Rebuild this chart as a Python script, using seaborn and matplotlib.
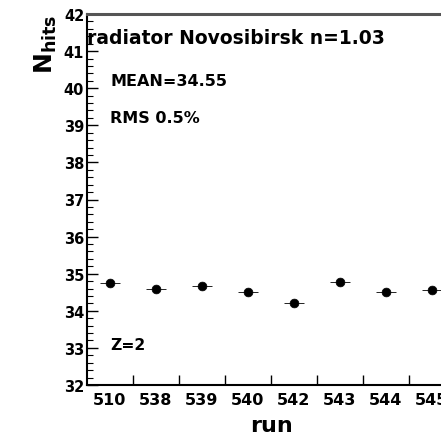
import matplotlib
matplotlib.use("Agg")
import matplotlib.pyplot as plt
import seaborn as sns
import numpy as np
from matplotlib.ticker import MultipleLocator, FixedLocator

runs = ["510", "538", "539", "540", "542", "543", "544", "545"]
nhits = [34.76, 34.60, 34.67, 34.52, 34.21, 34.77, 34.50, 34.55]
yerr = [0.03, 0.03, 0.03, 0.03, 0.03, 0.03, 0.03, 0.03]
xerr = [0.22, 0.22, 0.22, 0.22, 0.22, 0.22, 0.22, 0.22]

sns.set_style("ticks")
plt.rcParams['font.family'] = ['DejaVu Sans']
plt.rcParams['font.weight'] = 'bold'
plt.rcParams['mathtext.fontset'] = 'dejavusans'
plt.rcParams['text.color'] = 'black'
plt.rcParams['axes.labelcolor'] = 'black'
plt.rcParams['xtick.color'] = 'black'
plt.rcParams['ytick.color'] = 'black'

fig = plt.figure(figsize=(4.41, 4.35), dpi=100)
ax = fig.add_axes([87/441, 49/435, (441-87)/441, (386-15)/435])

pos = np.arange(len(runs))
ax.errorbar(pos, nhits, xerr=xerr, yerr=yerr, fmt='none', ecolor='black', elinewidth=0.6, capsize=0)
sns.scatterplot(x=pos, y=nhits, ax=ax, color='black', s=40, edgecolor='black', zorder=3)

ax.set_ylim(32, 42)
ax.set_xlim(-0.5, -0.5 + (441-87)/46)

ax.yaxis.set_major_locator(MultipleLocator(1))
ax.yaxis.set_minor_locator(MultipleLocator(0.2))
ax.tick_params(axis='y', which='major', direction='in', length=8, width=1, labelsize=10.5, pad=2)
ax.tick_params(axis='y', which='minor', direction='in', length=4, width=0.8)

ax.xaxis.set_major_locator(FixedLocator(pos))
ax.set_xticklabels(runs)
ax.xaxis.set_minor_locator(FixedLocator(pos[:-1] + 0.5))
ax.tick_params(axis='x', which='major', length=0, labelsize=11.5, pad=5)
ax.tick_params(axis='x', which='minor', direction='in', length=7, width=1)
for lab in ax.get_xticklabels() + ax.get_yticklabels():
    lab.set_fontweight('bold')

ax.spines['right'].set_visible(False)
ax.spines['top'].set_color('#555555')
ax.spines['top'].set_linewidth(2.2)
ax.spines['left'].set_linewidth(1.5)
ax.spines['bottom'].set_linewidth(1.5)
ax.spines['left'].set_color('black')
ax.spines['bottom'].set_color('black')

ax.set_xlabel("run", fontsize=16, fontweight='bold')
ax.xaxis.set_label_coords((271-87)/354, -0.08)
ax.set_ylabel(r"$\mathbf{N_{hits}}$", fontsize=18, fontweight='bold')
ax.yaxis.set_label_coords(-0.078, 0.92)

ax.text(0.0, 0.938, "radiator Novosibirsk n=1.03", transform=ax.transAxes, fontsize=13.5, fontweight='bold', ha='left', va='center')
ax.text(0.065, 0.821, "MEAN=34.55", transform=ax.transAxes, fontsize=11.5, fontweight='bold', ha='left', va='center')
ax.text(0.065, 0.72, "RMS 0.5%", transform=ax.transAxes, fontsize=11.5, fontweight='bold', ha='left', va='center')
ax.text(0.065, 0.11, "Z=2", transform=ax.transAxes, fontsize=11.2, fontweight='bold', ha='left', va='center')

fig.savefig("out.png", dpi=100)
